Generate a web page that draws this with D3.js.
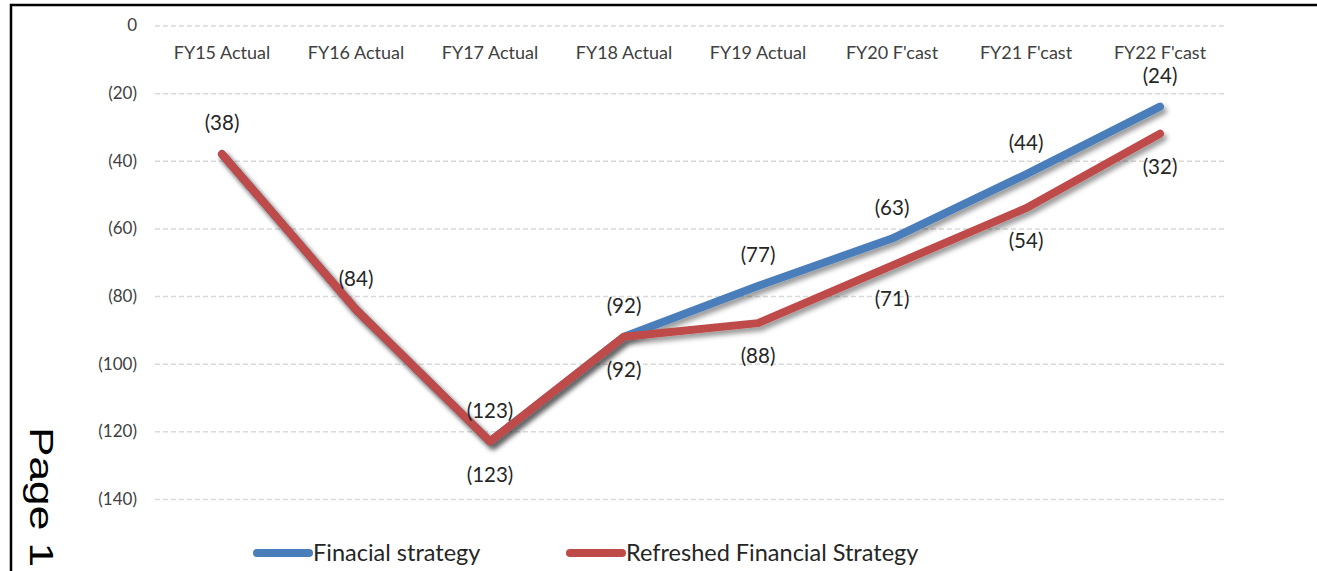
<!DOCTYPE html>
<html><head><meta charset="utf-8">
<script src="https://cdn.jsdelivr.net/npm/d3@7"></script>
<style>body{margin:0;background:#fff;}svg{display:block;}</style>
</head><body>
<svg id="c" width="1317" height="571"></svg>
<script>
const categories = ["FY15 Actual","FY16 Actual","FY17 Actual","FY18 Actual","FY19 Actual","FY20 F'cast","FY21 F'cast","FY22 F'cast"];
const financialStrategy = [-38,-84,-123,-92,-77,-63,-44,-24];
const refreshedStrategy = [-38,-84,-123,-92,-88,-71,-54,-32];
const showRefreshedLabel = [false,false,true,true,true,true,true,true];
const yTicks = [0,-20,-40,-60,-80,-100,-120,-140];
const seriesNames = ["Finacial strategy","Refreshed Financial Strategy"];

const svg = d3.select("#c");
const x = d3.scaleBand().domain(categories).range([155,1227]);
const y = d3.scaleLinear().domain([0,-140]).range([25.5,499]);
const fmt = v => v===0 ? "0" : "(" + Math.abs(v) + ")";
const font = "Lato, 'Open Sans', sans-serif";

const defs = svg.append("defs");
const f = defs.append("filter").attr("id","sh").attr("x","-10%").attr("y","-10%").attr("width","120%").attr("height","130%");
f.append("feDropShadow").attr("dx",3).attr("dy",4).attr("stdDeviation",2.5).attr("flood-color","#000").attr("flood-opacity",0.4);

// frame
svg.append("path").attr("d","M11,571 V5 H1317").attr("fill","none").attr("stroke","#000").attr("stroke-width",2.5);

// grid + y labels
const yAxis = d3.axisLeft(y).tickValues(yTicks).tickFormat(fmt).tickSize(-(1227-155)).tickPadding(18);
const ga = svg.append("g").attr("transform","translate(155,0)").call(yAxis);
ga.select(".domain").remove();
ga.selectAll(".tick line").attr("stroke","#d9d9d9").attr("stroke-width",1.5).attr("stroke-dasharray","5,3");
ga.selectAll(".tick text").attr("font-family",font).attr("font-size",17).attr("fill","#404040");

// category labels (top)
const xAxis = d3.axisTop(x).tickSize(0).tickPadding(0);
const gx = svg.append("g").attr("transform","translate(0,59)").call(xAxis);
gx.select(".domain").remove();
gx.selectAll(".tick text").attr("font-family",font).attr("font-size",18).attr("fill","#404040").attr("dy",0);

const cx = c => x(c) + x.bandwidth()/2;
const line = d3.line().x((d,i)=>cx(categories[i])).y(d=>y(d));

svg.append("path").datum(financialStrategy).attr("d",line).attr("fill","none")
  .attr("stroke","#4a7ebb").attr("stroke-width",8).attr("stroke-linecap","round").attr("stroke-linejoin","round").attr("filter","url(#sh)");
svg.append("path").datum(refreshedStrategy).attr("d",line).attr("fill","none")
  .attr("stroke","#be4b48").attr("stroke-width",8).attr("stroke-linecap","round").attr("stroke-linejoin","round").attr("filter","url(#sh)");

svg.append("g").selectAll("text").data(financialStrategy).join("text")
  .attr("x",(d,i)=>cx(categories[i])).attr("y",d=>y(d)-31).attr("dy","0.35em")
  .attr("text-anchor","middle").attr("font-family",font).attr("font-size",20.5).attr("fill","#262626").text(fmt);
svg.append("g").selectAll("text").data(refreshedStrategy.map((v,i)=>({v,i})).filter(d=>showRefreshedLabel[d.i])).join("text")
  .attr("x",d=>cx(categories[d.i])).attr("y",d=>y(d.v)+33).attr("dy","0.35em")
  .attr("text-anchor","middle").attr("font-family",font).attr("font-size",20.5).attr("fill","#262626").text(d=>fmt(d.v));

// legend
const legend = [{name:seriesNames[0],color:"#4a7ebb",x:257},{name:seriesNames[1],color:"#be4b48",x:570}];
const lg = svg.append("g").selectAll("g").data(legend).join("g").attr("transform",d=>`translate(${d.x},553)`);
lg.append("line").attr("x1",0).attr("x2",52).attr("y1",0).attr("y2",0).attr("stroke",d=>d.color).attr("stroke-width",8).attr("stroke-linecap","round");
lg.append("text").attr("x",56).attr("y",0).attr("dy","0.35em").attr("font-family",font).attr("font-size",23.5).attr("fill","#262626").text(d=>d.name);

// page text
svg.append("text").attr("transform","translate(30,427) rotate(90) scale(1.3,1)").attr("font-family","'Liberation Sans', Arial, sans-serif")
  .attr("font-size",34).attr("fill","#000").text("Page 1");
</script>
</body></html>
